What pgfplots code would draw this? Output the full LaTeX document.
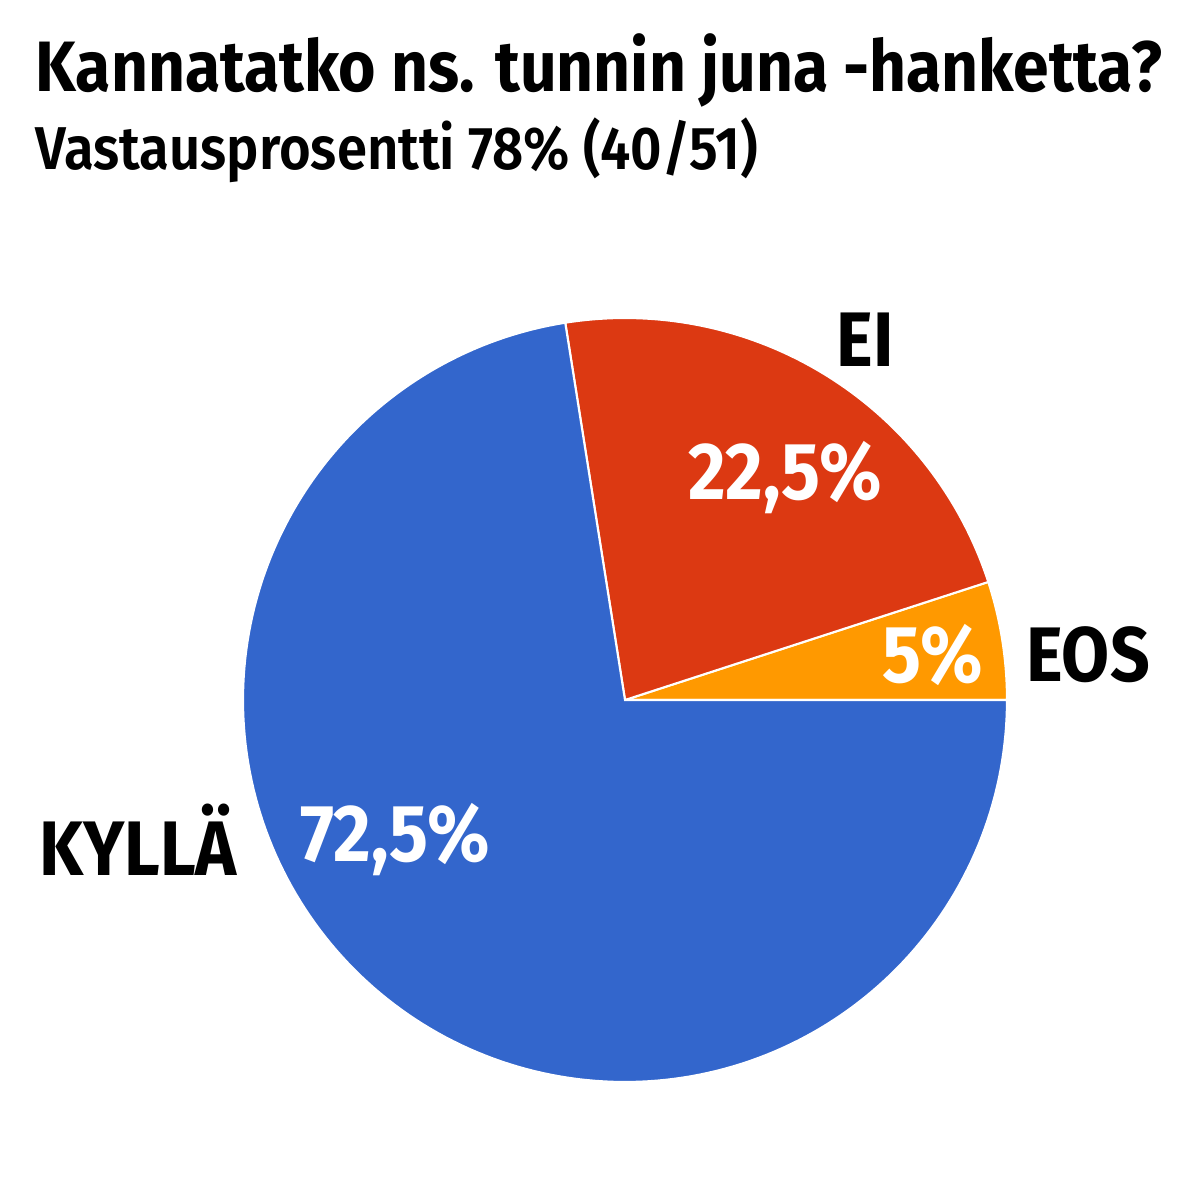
\documentclass[border=0pt]{standalone}
\usepackage{pgfplots}
\pgfplotsset{compat=1.18}
\usepackage{fontspec}
\setmainfont{Fira Sans}[FakeStretch=0.9]
\newfontfamily\semifont{Fira Sans SemiBold}[FakeStretch=0.9]

\definecolor{kylla}{HTML}{3366CC}
\definecolor{ei}{HTML}{DC3912}
\definecolor{eos}{HTML}{FF9900}

% shares in percent, drawn counterclockwise from east
\def\eos{5}
\def\ei{22.5}
\def\kylla{72.5}

\begin{document}
\begin{tikzpicture}
  \path[use as bounding box] (0,0) rectangle (12cm,12cm);
  \begin{axis}[
    at={(0,0)}, anchor=south west,
    scale only axis, width=12cm, height=12cm,
    xmin=0, xmax=1200, ymin=0, ymax=1200,
    hide axis, clip=false,
    ]
    % EOS
    \addplot[fill=eos, draw=white, line width=0.6pt, domain=0:{\eos*3.6}, samples=40]
      ({625+382*cos(x)}, {500+382*sin(x)}) -- (625,500) -- cycle;
    % EI
    \addplot[fill=ei, draw=white, line width=0.6pt, domain={\eos*3.6}:{(\eos+\ei)*3.6}, samples=80]
      ({625+382*cos(x)}, {500+382*sin(x)}) -- (625,500) -- cycle;
    % KYLLÄ
    \addplot[fill=kylla, draw=white, line width=0.6pt, domain={(\eos+\ei)*3.6}:360, samples=200]
      ({625+382*cos(x)}, {500+382*sin(x)}) -- (625,500) -- cycle;

    \node[anchor=base west, inner sep=0, font=\bfseries\fontsize{20.3}{24}\selectfont]
      at (35,1108) {Kannatatko ns. tunnin juna -hanketta?};
    \node[anchor=base west, inner sep=0, font=\semifont\fontsize{17.2}{21}\selectfont]
      at (35,1030) {Vastausprosentti 78\% (40/51)};

    \begin{scope}[every node/.style={inner sep=0, font=\bfseries\fontsize{22}{26}\selectfont}]
      \node at (865,860) {EI};
      \node at (1088,545) {EOS};
      \node at (138,360) {KYLLÄ};
    \end{scope}
    \begin{scope}[every node/.style={inner sep=0, text=white, font=\bfseries\fontsize{23}{27}\selectfont}]
      \node at (785,722) {22,5\%};
      \node at (933,545) {5\%};
      \node at (395,360) {72,5\%};
    \end{scope}
  \end{axis}
\end{tikzpicture}
\end{document}
